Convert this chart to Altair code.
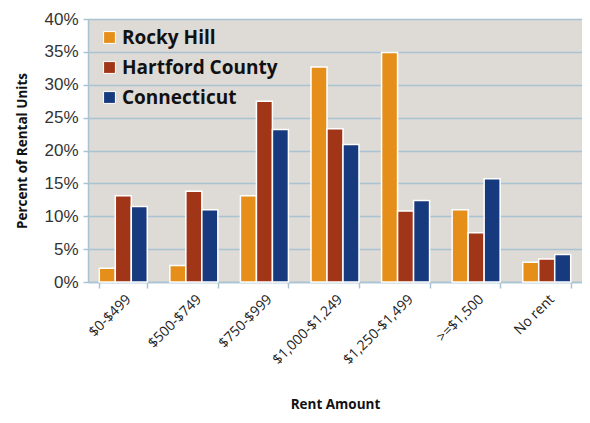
import altair as alt
import pandas as pd

categories = ["$0-$499", "$500-$749", "$750-$999", "$1,000-$1,249", "$1,250-$1,499", ">=$1,500", "No rent"]
series = ["Rocky Hill", "Hartford County", "Connecticut"]
rocky_hill = [2.1, 2.5, 13.1, 32.7, 34.9, 11.0, 3.0]
hartford_county = [13.1, 13.8, 27.5, 23.3, 10.8, 7.5, 3.5]
connecticut = [11.5, 11.0, 23.2, 20.9, 12.4, 15.7, 4.2]
colors = ["#E58F1A", "#A03518", "#17397D"]

rows = []
for name, vals in zip(series, [rocky_hill, hartford_county, connecticut]):
    for c, v in zip(categories, vals):
        rows.append({"cat": c, "series": name, "value": v})
df = pd.DataFrame(rows)

grid_color = "#A9C3D2"
font = "Open Sans"

chart = alt.Chart(df).mark_bar(stroke="white", strokeWidth=1.5).encode(
    x=alt.X("cat:N", sort=categories,
            scale=alt.Scale(paddingInner=0.32, paddingOuter=0.16),
            axis=alt.Axis(title="Rent Amount", labelAngle=-45, labelAlign="right",
                          labelBaseline="top", labelFontSize=14, labelColor="#222222",
                          labelFont=font, titleFont=font, titleFontSize=13.5,
                          titleFontWeight="bold", titleColor="#111111", titlePadding=31,
                          domainColor=grid_color, domainWidth=1.5, tickColor=grid_color,
                          tickWidth=1.5, tickSize=6, tickBand="extent", labelPadding=4)),
    xOffset=alt.XOffset("series:N", sort=series),
    y=alt.Y("value:Q", scale=alt.Scale(domain=[0, 40]),
            axis=alt.Axis(title="Percent of Rental Units", values=[0, 5, 10, 15, 20, 25, 30, 35, 40],
                          labelExpr="datum.value + '%'", labelFontSize=17, labelColor="#333333",
                          labelFont="Liberation Sans", titleFont=font, titleFontSize=13.5,
                          titleFontWeight="bold", titleColor="#111111", titlePadding=14,
                          grid=True, gridColor=grid_color,
                          gridWidth=1.5, domainColor=grid_color, domainWidth=1.5,
                          tickColor=grid_color, tickWidth=1.5, tickSize=5, labelPadding=5)),
    color=alt.Color("series:N", sort=series,
                    scale=alt.Scale(domain=series, range=colors),
                    legend=alt.Legend(title=None, orient="none", legendX=12, legendY=9,
                                      symbolType="square", symbolSize=140, symbolStrokeColor="white",
                                      symbolStrokeWidth=1, labelFontSize=19, labelFontWeight="bold",
                                      labelFont=font, labelColor="#111111", rowPadding=10,
                                      labelOffset=3)),
).properties(
    width=494, height=263,
    autosize=alt.AutoSizeParams(type="none"),
    padding={"left": 80, "top": 11, "right": 0, "bottom": 133},
).configure_view(fill="#DEDAD5", stroke=None)

chart.save("out.html", embed_options={"renderer": "svg", "actions": False})
